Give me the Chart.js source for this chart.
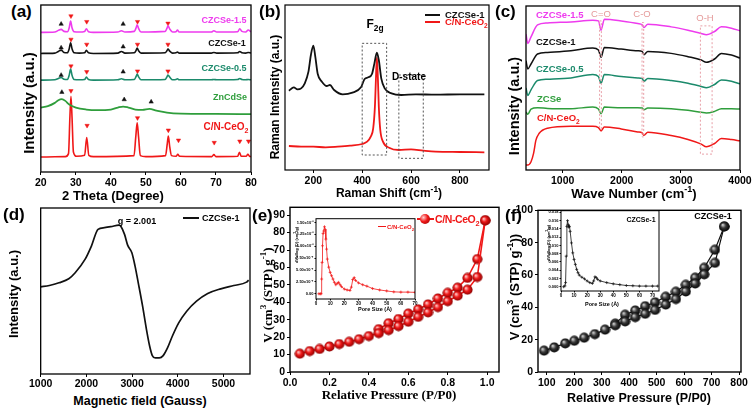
<!DOCTYPE html>
<html>
<head>
<meta charset="utf-8">
<script src="https://cdn.jsdelivr.net/npm/chart.js@4.4.1/dist/chart.umd.min.js"></script>
<style>
  html, body { margin: 0; padding: 0; background: #fff; }
  #fig { position: relative; width: 756px; height: 412px; overflow: hidden; font-family: "Liberation Sans", Arial, sans-serif; }
  #fig canvas { position: absolute; }
  .t { position: absolute; z-index: 2; font-weight: bold; white-space: nowrap; line-height: 1; color: #000; transform: translate(-50%, -50%); }
  .l { transform: translate(0, -50%); }
  .v { transform: translate(-50%, -50%) rotate(-90deg); }
  .p { transform: none; font-size: 17px; }
  .n { font-weight: normal; font-size: 9.5px; color: #e59a9a; }
  .serif { font-family: "Liberation Serif", "Times New Roman", serif; }
  .k { position: absolute; z-index: 2; height: 2px; }
  .ball { position: absolute; z-index: 3; width: 10px; height: 10px; border-radius: 50%;
          background: radial-gradient(circle at 35% 35%, #ffd0d0 0%, #f01818 45%, #8a0000 100%); }
  sub, sup { font-size: 70%; line-height: 0; }
</style>
</head>
<body>
<div id="fig">
  <!-- (a) XRD -->
  <div class="t p" style="left:11px;top:3px">(a)</div>
  <div class="t v" style="left:28px;top:103px;font-size:15px">Intensity (a.u.)</div>
  <div class="t" style="left:113px;top:195px;font-size:13px">2 Theta (Degree)</div>
  <div class="t" style="left:224px;top:20px;font-size:9px;color:#ee3bee">CZCSe-1.5</div>
  <div class="t" style="left:227px;top:43px;font-size:9px;color:#111">CZCSe-1</div>
  <div class="t" style="left:224px;top:68px;font-size:9px;color:#1b8a6b">CZCSe-0.5</div>
  <div class="t" style="left:230px;top:97px;font-size:9px;color:#2f9e3c">ZnCdSe</div>
  <div class="t" style="left:226px;top:127px;font-size:10px;color:#f01818">C/N-CeO<sub>2</sub></div>

  <!-- (b) Raman -->
  <div class="t p" style="left:259px;top:3px">(b)</div>
  <div class="t v" style="left:275px;top:97px;font-size:12px">Raman Intensity (a.u.)</div>
  <div class="t" style="left:389px;top:193px;font-size:12px">Raman Shift (cm<sup>-1</sup>)</div>
  <div class="k" style="left:425px;top:14px;width:15px;background:#111"></div>
  <div class="k" style="left:425px;top:21px;width:15px;background:#f01818"></div>
  <div class="t l" style="left:445px;top:15px;font-size:9.5px;color:#111">CZCSe-1</div>
  <div class="t l" style="left:445px;top:22px;font-size:9.5px;color:#f01818">C/N-CeO<sub>2</sub></div>
  <div class="t" style="left:375px;top:24px;font-size:12px">F<sub>2g</sub></div>
  <div class="t" style="left:409px;top:77px;font-size:10px">D-state</div>

  <!-- (c) FTIR -->
  <div class="t p" style="left:495px;top:3px">(c)</div>
  <div class="t v" style="left:514px;top:106px;font-size:14.5px">Intensity (a.u.)</div>
  <div class="t" style="left:634px;top:193px;font-size:13px">Wave Number (cm<sup>-1</sup>)</div>
  <div class="t l" style="left:536px;top:15px;font-size:9.5px;color:#ee3bee">CZCSe-1.5</div>
  <div class="t l" style="left:536px;top:42px;font-size:9.5px;color:#111">CZCSe-1</div>
  <div class="t l" style="left:536px;top:69px;font-size:9.5px;color:#1b8a6b">CZCSe-0.5</div>
  <div class="t l" style="left:537px;top:99px;font-size:9.5px;color:#2f9e3c">ZCSe</div>
  <div class="t l" style="left:537px;top:118px;font-size:9.5px;color:#f01818">C/N-CeO<sub>2</sub></div>
  <div class="t n" style="left:601px;top:14px">C=O</div>
  <div class="t n" style="left:642px;top:14px">C-O</div>
  <div class="t n" style="left:705px;top:18px">O-H</div>

  <!-- (d) EPR -->
  <div class="t p" style="left:3px;top:206px">(d)</div>
  <div class="t v" style="left:13px;top:294px;font-size:13px">Intensity (a.u.)</div>
  <div class="t" style="left:140px;top:401px;font-size:12.5px">Magnetic field (Gauss)</div>
  <div class="t" style="left:137px;top:221px;font-size:9px">g = 2.001</div>
  <div class="k" style="left:183px;top:217px;width:16px;background:#111"></div>
  <div class="t l" style="left:202px;top:218px;font-size:9px">CZCSe-1</div>

  <!-- (e) BET C/N-CeO2 -->
  <div class="t p" style="left:252px;top:207px">(e)</div>
  <div class="t v serif" style="left:267px;top:295px;font-size:13px">V (cm<sup>3</sup> (STP) g<sup>-1</sup>)</div>
  <div class="t serif" style="left:389px;top:394px;font-size:13px">Relative Pressure (P/P0)</div>
  <div class="k" style="left:417px;top:218px;width:17px;background:#f01818"></div>
  <div class="ball" style="left:420px;top:214px"></div>
  <div class="t l" style="left:435px;top:219px;font-size:10.5px;letter-spacing:-0.4px;color:#f01818">C/N-CeO<sub>2</sub></div>
  <div class="t" style="left:375px;top:310px;font-size:5.5px">Pore Size (Å)</div>
  <div class="t v" style="left:297px;top:245px;font-size:4px">dV/dlog (D) (cm<sup>3</sup>/g)</div>
  <div class="k" style="left:378px;top:226px;width:8px;height:1px;background:#f01818"></div>
  <div class="t l" style="left:387px;top:227px;font-size:6px;color:#f01818">C/N-CeO<sub>2</sub></div>

  <!-- (f) BET CZCSe-1 -->
  <div class="t p" style="left:505px;top:207px">(f)</div>
  <div class="t v" style="left:514px;top:287px;font-size:13px">V (cm<sup>3</sup> (STP) g<sup>-1</sup>))</div>
  <div class="t" style="left:639px;top:398px;font-size:12.5px">Relative Pressure (P/P0)</div>
  <div class="t" style="left:713px;top:216px;font-size:9px">CZCSe-1</div>
  <div class="t" style="left:641px;top:219px;font-size:7px">CZCSe-1</div>
  <div class="t" style="left:602px;top:305px;font-size:5.5px">Pore Size (Å)</div>
  <div class="t v" style="left:549px;top:243px;font-size:4px">dV/dlog (D) (cm<sup>3</sup>/g)</div>
</div>
<script>
  // ---------- (a) XRD patterns ----------
  const xrdX = [20, 24, 25, 25.8, 26.6, 27.6, 28.1, 28.5, 28.9, 29.5, 31, 32.5, 33, 33.6, 35, 42, 43, 44, 46.7, 47.2,
    47.5, 47.9, 48.6, 55.5, 56, 56.3, 56.8, 57.6, 58.6, 59, 59.5, 68.7, 69.4, 70.2, 76.2, 76.8, 77.4, 78.5, 79.2, 80];
  const xrdCZCSe15 = [418, 419, 424, 427, 421, 420, 432, 452, 432, 420, 419, 421, 429, 420, 418, 419, 423, 419, 421, 432,
    441, 430, 419, 421, 430, 438, 428, 419, 420, 425, 419, 419, 423, 419, 420, 429, 421, 419, 425, 420];
  const xrdCZCSe1 = [355, 356, 361, 365, 358, 357, 369, 387, 369, 357, 356, 357, 364, 357, 355, 356, 361, 356, 357, 364,
    371, 363, 356, 357, 363, 368, 362, 356, 357, 359, 356, 356, 358, 356, 357, 361, 357, 356, 358, 356];
  const xrdCZCSe05 = [275, 276, 280, 283, 278, 277, 290, 308, 290, 277, 276, 277, 284, 277, 275, 276, 279, 276, 277, 286,
    293, 285, 276, 277, 285, 290, 284, 276, 277, 279, 276, 276, 277, 276, 277, 280, 277, 276, 277, 276];
  const xrdZnCdSeX = [20, 22, 24, 25, 26, 27, 28, 30, 33, 36, 40, 42, 43.5, 45, 47, 49, 51, 53, 56, 60, 70, 80];
  const xrdZnCdSeY = [193, 197, 207, 215, 218, 213, 203, 193, 187, 185, 187, 193, 196, 193, 187, 186, 189, 184, 178, 175, 174, 173];
  const xrdCeO2X = [20, 27, 27.9, 28.3, 28.6, 28.9, 29.3, 30.2, 32.5, 33.1, 33.7, 35, 46.6, 47.1, 47.5, 47.9, 48.4, 50,
    55.6, 56.1, 56.4, 56.8, 57.3, 58.6, 59.1, 59.6, 68.8, 69.4, 70, 76.2, 76.7, 77.2, 78.6, 79.1, 79.6, 80];
  const xrdCeO2Y = [45, 46, 55, 165, 227, 165, 60, 47, 50, 103, 50, 46, 49, 105, 147, 105, 49, 46,
    49, 85, 108, 75, 49, 47, 53, 47, 46, 52, 46, 47, 59, 47, 47, 53, 47, 46];
  // phase markers: black = ZnCdSe, red = CeO2
  const xrdUpX = [25.8, 43.5, 25.8, 43.5, 25.8, 43.5, 26, 43.8, 51.5];
  const xrdUpY = [443, 443, 372, 375, 290, 300, 239, 217, 210];
  const xrdDownX = [28.6, 33.1, 47.6, 56.3, 28.6, 33.1, 47.6, 56.3, 28.6, 33.1, 47.6, 56.3,
    28.6, 33.2, 47.6, 56.4, 59.3, 69.5, 76.8, 79.3];
  const xrdDownY = [467, 450, 450, 445, 397, 382, 382, 382, 317, 300, 302, 302,
    243, 139, 162, 125, 95, 88, 92, 92];
  const xrdTicks = [20, 30, 40, 50, 60, 70, 80];

  // ---------- (b) Raman ----------
  const ramanCZCSeX = [100, 120, 135, 150, 165, 180, 190, 200, 208, 218, 235, 255, 268, 285, 320, 360, 395, 410, 425, 440,
    450, 460, 468, 478, 492, 520, 560, 620, 700, 800, 900];
  const ramanCZCSeY = [238, 248, 242, 245, 260, 295, 345, 373, 340, 288, 265, 252, 255, 240, 227, 232, 248, 273, 278, 288,
    320, 352, 330, 275, 245, 230, 225, 227, 226, 227, 227];
  const ramanCeO2X = [100, 150, 200, 250, 300, 350, 400, 420, 435, 445, 452, 456, 460, 464, 468, 474, 485, 510, 550, 600,
    650, 700, 800, 900];
  const ramanCeO2Y = [72, 70, 70, 68, 70, 73, 78, 85, 100, 125, 190, 270, 338, 280, 190, 120, 85, 67, 60, 62,
    58, 55, 54, 53];
  const f2gBoxX = [400, 500, 500, 400, 400];
  const f2gBoxY = [380, 380, 45, 45, 380];
  const dStateBoxX = [550, 650, 650, 550, 550];
  const dStateBoxY = [285, 285, 35, 35, 285];
  const ramanTicks = [200, 400, 600, 800];

  // ---------- (c) FTIR ----------
  const ftirX = [380, 410, 465, 575, 745, 1140, 1510, 1605, 1650, 1705, 1990, 2270, 2345, 2375, 2440, 2835, 3120, 3345,
    3430, 3570, 3685, 3855, 4000];
  const ftirCZCSe15 = [410, 382, 402, 438, 444, 447, 452, 450, 422, 455, 450, 442, 438, 430, 440, 432, 422, 412,
    408, 418, 432, 428, 420];
  const ftirCZCSe1 = [330, 305, 320, 350, 355, 360, 368, 362, 340, 370, 365, 360, 358, 348, 358, 352, 342, 332,
    325, 335, 352, 347, 338];
  const ftirCZCSe05 = [248, 225, 242, 270, 274, 278, 288, 282, 262, 288, 282, 278, 276, 268, 276, 270, 262, 252,
    248, 258, 272, 268, 260];
  const ftirZCSe = [175, 168, 184, 188, 186, 185, 190, 184, 170, 190, 188, 188, 187, 182, 187, 185, 180, 174,
    172, 177, 185, 185, 184];
  const ftirCeO2X = [380, 410, 465, 508, 548, 600, 745, 1140, 1510, 1605, 1650, 1705, 1990, 2270, 2345, 2375, 2440, 2835,
    3120, 3345, 3430, 3570, 3685, 3855, 4000];
  const ftirCeO2Y = [15, 15, 25, 50, 90, 110, 126, 132, 132, 128, 118, 130, 124, 115, 112, 105, 114, 104,
    92, 78, 70, 80, 95, 92, 88];
  const coBoxX = [1625, 1655, 1655, 1625, 1625];
  const coBoxY = [450, 450, 125, 125, 450];
  const c_oBoxX = [2343, 2371, 2371, 2343, 2343];
  const c_oBoxY = [445, 445, 100, 100, 445];
  const ohBoxX = [3330, 3528, 3528, 3330, 3330];
  const ohBoxY = [435, 435, 48, 48, 435];
  const ftirTicks = [1000, 2000, 3000, 4000];

  // ---------- (d) EPR ----------
  const eprX = [1000, 1190, 1400, 1615, 1755, 1970, 2110, 2255, 2395, 2535, 2715, 2760, 2835, 2905, 2995, 3065, 3135,
    3230, 3315, 3385, 3440, 3510, 3595, 3680, 3775, 3880, 4020, 4195, 4410, 4655, 4940, 5225, 5505, 5550];
  const eprY = [261, 265, 273, 285, 303, 343, 383, 433, 438, 441, 446, 441, 418, 385, 363, 323, 273,
    203, 133, 83, 56, 48, 48, 55, 78, 113, 153, 188, 218, 241, 255, 265, 275, 281];
  const eprTicks = [1000, 2000, 3000, 4000, 5000];

  // ---------- (e) N2 isotherm C/N-CeO2 ----------
  const betEAdsX = [0.05, 0.1, 0.15, 0.2, 0.25, 0.3, 0.35, 0.4, 0.45, 0.5, 0.55, 0.6, 0.65, 0.7, 0.75, 0.8, 0.85, 0.9, 0.95, 0.99];
  const betEAdsY = [10.5, 12, 13.2, 14.6, 16, 17.3, 18.8, 20.6, 22.3, 24, 26.3, 28.8, 31.6, 34.2, 37.2, 40.6, 43.8, 47.2, 54.5, 87];
  const betEDesX = [0.45, 0.5, 0.55, 0.6, 0.65, 0.7, 0.75, 0.8, 0.85, 0.9, 0.95, 0.99];
  const betEDesY = [24.6, 28, 30.4, 33.5, 36, 38.8, 42.2, 45.4, 48.4, 54, 64.8, 87];
  const betEXTicks = [0, 0.2, 0.4, 0.6, 0.8, 1.0];
  const betEXLabels = ["0.0", "0.2", "0.4", "0.6", "0.8", "1.0"];
  const betEYTicks = [0, 10, 20, 30, 40, 50, 60, 70, 80, 90];
  // pore size distribution inset (values in 1e-3 cm3/g)
  const poreEX = [2, 3, 3.6, 4, 4.3, 4.6, 5, 5.5, 6, 6.5, 7, 7.5, 8, 9, 10, 11, 12, 13, 14, 15,
    16, 17, 18, 20, 22, 24, 25, 26, 27, 28, 30, 33, 36, 40, 45, 50, 55, 60, 65, 70];
  const poreEY = [0, 0, 0, 0.31, 0.66, 1.01, 1.27, 1.32, 1.41, 1.35, 1.15, 0.94, 0.73, 0.56, 0.45, 0.38, 0.31, 0.24, 0.19, 0.22,
    0.24, 0.19, 0.15, 0.10, 0.08, 0.07, 0.14, 0.30, 0.34, 0.28, 0.23, 0.19, 0.16, 0.11, 0.08, 0.06, 0.04, 0.035, 0.035, 0.03];
  const poreEXTicks = [0, 10, 20, 30, 40, 50, 60, 70];
  const poreEYTicks = [0, 0.25, 0.5, 0.75, 1, 1.25, 1.5];
  const poreEYLabels = ["0.00", "2.50x10⁻⁴", "5.00x10⁻⁴", "7.50x10⁻⁴", "1.00x10⁻³", "1.25x10⁻³", "1.50x10⁻³"];

  // ---------- (f) N2 isotherm CZCSe-1 ----------
  const betFAdsX = [90, 127, 167, 200, 236, 275, 312, 349, 385, 422, 458, 494, 533, 570, 606, 640, 673, 712, 746];
  const betFAdsY = [13.2, 15.2, 17.7, 19.3, 21.2, 23.4, 26.2, 28.9, 31.3, 33.9, 36, 38.4, 41.7, 45.1, 49.8, 54.7, 60.4, 67.5, 90];
  const betFDesX = [349, 385, 422, 458, 494, 533, 570, 606, 640, 673, 712, 746];
  const betFDesY = [29.9, 35.4, 38, 40.7, 43.1, 46.5, 49.6, 53.9, 58.3, 64.4, 75.6, 90];
  const betFXTicks = [100, 200, 300, 400, 500, 600, 700, 800];
  const betFYTicks = [0, 20, 40, 60, 80, 100];
  const poreFX = [2, 3, 3.5, 4, 4.5, 5, 5.5, 6, 6.5, 7, 8, 9, 10, 11, 12, 13, 14, 16, 18, 20,
    22, 24, 25, 26, 27, 28, 30, 35, 40, 45, 50, 55, 60, 65, 70, 74];
  const poreFY = [0, 0.0002, 0.001, 0.0074, 0.0146, 0.016, 0.015, 0.0144, 0.0146, 0.0134, 0.0106, 0.0082, 0.0066, 0.0054,
    0.0042, 0.0034, 0.0028, 0.0023, 0.0019, 0.0014, 0.001, 0.0008, 0.0014, 0.0024, 0.0022, 0.0018, 0.0014, 0.001,
    0.0007, 0.0005, 0.0003, 0.00024, 0.00016, 0.00016, 0.00016, 0.00016];
  const poreFXTicks = [0, 10, 20, 30, 40, 50, 60, 70];
  const poreFYTicks = [0, 0.002, 0.004, 0.006, 0.008, 0.01, 0.012, 0.014, 0.016, 0.018];
  const poreFYLabels = ["0.000", "0.002", "0.004", "0.006", "0.008", "0.010", "0.012", "0.014", "0.016", "0.018"];

  const MAGENTA = "#ee3bee", BLACK = "#111", TEAL = "#1b8a6b", GREEN = "#2f9e3c", RED = "#f01818", PINK = "#e8a0a8";

  const fig = document.getElementById("fig");

  // Box around each plot area
  const framePlugin = {
    id: "frame",
    afterDatasetsDraw(chart, args, opts) {
      const a = chart.chartArea;
      const ctx = chart.ctx;
      ctx.save();
      ctx.strokeStyle = "#000";
      ctx.lineWidth = opts.width || 1.3;
      ctx.strokeRect(a.left, a.top, a.right - a.left, a.bottom - a.top);
      ctx.restore();
    },
  };

  function pts(xs, ys) {
    return xs.map((x, i) => ({ x: x, y: ys[i] }));
  }

  function axis(min, max, tickValues, opts) {
    opts = opts || {};
    const show = tickValues.length > 0;
    const ax = {
      type: "linear",
      min: min,
      max: max,
      border: { display: false },
      grid: { display: show, drawOnChartArea: false, drawTicks: true, tickLength: opts.tick || 3, color: "#000", lineWidth: 1 },
      ticks: {
        display: show,
        autoSkip: false,
        maxRotation: 0,
        minRotation: 0,
        padding: opts.pad === undefined ? 2 : opts.pad,
        color: "#000",
        font: { family: "Liberation Sans", weight: "bold", size: opts.font || 10.5 },
        callback: (v, i) => (opts.labels ? opts.labels[i] : String(v)),
      },
    };
    if (show) {
      ax.afterBuildTicks = (scale) => {
        scale.ticks = tickValues.map((v) => ({ value: v }));
      };
    }
    return ax;
  }

  // box = plot area [left, top, right, bottom]; pad = [yAxisWidth, top, right, xAxisHeight]
  function makeChart(box, pad, xAxis, yAxis, datasets, frameWidth) {
    const w = box[2] - box[0] + pad[0] + pad[2];
    const h = box[3] - box[1] + pad[1] + pad[3];
    const canvas = document.createElement("canvas");
    canvas.width = w;
    canvas.height = h;
    canvas.style.left = box[0] - pad[0] + "px";
    canvas.style.top = box[1] - pad[1] + "px";
    canvas.style.width = w + "px";
    canvas.style.height = h + "px";
    fig.appendChild(canvas);
    xAxis.afterFit = (s) => { s.height = pad[3]; };
    yAxis.afterFit = (s) => { s.width = pad[0]; };
    return new Chart(canvas, {
      type: "scatter",
      data: { datasets: datasets },
      options: {
        responsive: false,
        animation: false,
        devicePixelRatio: 1,
        layout: { padding: { left: 0, top: pad[1], right: pad[2], bottom: 0 } },
        plugins: { legend: { display: false }, tooltip: { enabled: false }, frame: { width: frameWidth } },
        scales: { x: xAxis, y: yAxis },
      },
      plugins: [framePlugin],
    });
  }

  function curve(xs, ys, color, width) {
    return { data: pts(xs, ys), showLine: true, borderColor: color, borderWidth: width, pointRadius: 0, cubicInterpolationMode: "monotone" };
  }

  function dashedBox(xs, ys, color) {
    return { data: pts(xs, ys), showLine: true, borderColor: color, borderWidth: 1, borderDash: [2, 2], pointRadius: 0, tension: 0 };
  }

  function triangles(xs, ys, color, rotation) {
    return {
      data: pts(xs, ys), showLine: false, pointStyle: "triangle", pointRadius: 2.5, pointRotation: rotation,
      pointBackgroundColor: color, pointBorderColor: color, pointBorderWidth: 0.5,
    };
  }

  // small shaded ball used as point marker
  function sphere(light, mid, dark) {
    const c = document.createElement("canvas");
    c.width = 11;
    c.height = 11;
    const g = c.getContext("2d");
    const grad = g.createRadialGradient(3.8, 3.8, 0.3, 5.5, 5.5, 5.2);
    grad.addColorStop(0, light);
    grad.addColorStop(0.45, mid);
    grad.addColorStop(1, dark);
    g.fillStyle = grad;
    g.beginPath();
    g.arc(5.5, 5.5, 5.1, 0, Math.PI * 2);
    g.fill();
    return c;
  }

  function balls(xs, ys, color, img, width) {
    return { data: pts(xs, ys), showLine: true, borderColor: color, borderWidth: width, pointStyle: img, pointRadius: 5, tension: 0 };
  }

  function poreLine(xs, ys, color) {
    return {
      data: pts(xs, ys), showLine: true, borderColor: color, borderWidth: 0.8, tension: 0,
      pointStyle: "cross", pointRadius: 1.5, pointBorderColor: color, pointBorderWidth: 0.7,
    };
  }

  const redBall = sphere("#ffd0d0", "#f01818", "#8a0000");
  const blackBall = sphere("#d8d8d8", "#3a3a3a", "#000");

  // (a)
  makeChart([39, 5, 251, 172], [6, 6, 10, 16], axis(20, 80, xrdTicks), axis(0, 500, []), [
    curve(xrdX, xrdCZCSe15, MAGENTA, 1.6),
    curve(xrdX, xrdCZCSe1, BLACK, 1.6),
    curve(xrdX, xrdCZCSe05, TEAL, 1.6),
    curve(xrdZnCdSeX, xrdZnCdSeY, GREEN, 1.8),
    curve(xrdCeO2X, xrdCeO2Y, RED, 1.6),
    triangles(xrdUpX, xrdUpY, BLACK, 0),
    triangles(xrdDownX, xrdDownY, RED, 180),
  ], 1.3);

  // (b)
  makeChart([285, 5, 489, 170], [6, 6, 12, 16], axis(84, 919, ramanTicks), axis(0, 495, []), [
    dashedBox(f2gBoxX, f2gBoxY, "#555"),
    dashedBox(dStateBoxX, dStateBoxY, "#555"),
    curve(ramanCZCSeX, ramanCZCSeY, BLACK, 1.8),
    curve(ramanCeO2X, ramanCeO2Y, RED, 1.8),
  ], 1.2);

  // (c)
  makeChart([526, 6, 740, 170], [6, 6, 14, 16], axis(380, 4000, ftirTicks), axis(0, 495, []), [
    dashedBox(coBoxX, coBoxY, PINK),
    dashedBox(c_oBoxX, c_oBoxY, PINK),
    dashedBox(ohBoxX, ohBoxY, PINK),
    curve(ftirX, ftirCZCSe15, MAGENTA, 1.5),
    curve(ftirX, ftirCZCSe1, BLACK, 1.5),
    curve(ftirX, ftirCZCSe05, TEAL, 1.5),
    curve(ftirX, ftirZCSe, GREEN, 1.5),
    curve(ftirCeO2X, ftirCeO2Y, RED, 1.5),
  ], 1.3);

  // (d)
  makeChart([34, 208, 250, 374], [6, 6, 12, 16], axis(1000, 5580, eprTicks, { pad: 1 }), axis(0, 497, []), [
    curve(eprX, eprY, BLACK, 1.7),
  ], 1.3);

  // (e)
  makeChart([290, 205, 499, 372], [24, 6, 12, 16],
    axis(0, 1.06, betEXTicks, { labels: betEXLabels }), axis(0, 94.5, betEYTicks), [
      balls(betEAdsX, betEAdsY, RED, redBall, 1.6),
      balls(betEDesX, betEDesY, RED, redBall, 1.6),
    ], 1.4);

  // (f)
  makeChart([538, 208, 741, 372], [24, 6, 14, 16], axis(68, 807, betFXTicks), axis(0, 100, betFYTicks), [
    balls(betFAdsX, betFAdsY, BLACK, blackBall, 1.2),
    balls(betFDesX, betFDesY, BLACK, blackBall, 1.2),
  ], 1.4);

  // insets
  makeChart([316, 218, 415, 299], [20, 4, 5, 7],
    axis(0, 70, poreEXTicks, { font: 4.5, tick: 1.5, pad: 1 }),
    axis(-0.11, 1.58, poreEYTicks, { font: 4, tick: 1.5, pad: 1, labels: poreEYLabels }), [
      poreLine(poreEX, poreEY, RED),
    ], 1);

  makeChart([561, 210, 659, 291], [14, 4, 5, 7],
    axis(0, 75, poreFXTicks, { font: 4.5, tick: 1.5, pad: 1 }),
    axis(-0.00103, 0.0184, poreFYTicks, { font: 4, tick: 1.5, pad: 1, labels: poreFYLabels }), [
      poreLine(poreFX, poreFY, BLACK),
    ], 1);
</script>
</body>
</html>
